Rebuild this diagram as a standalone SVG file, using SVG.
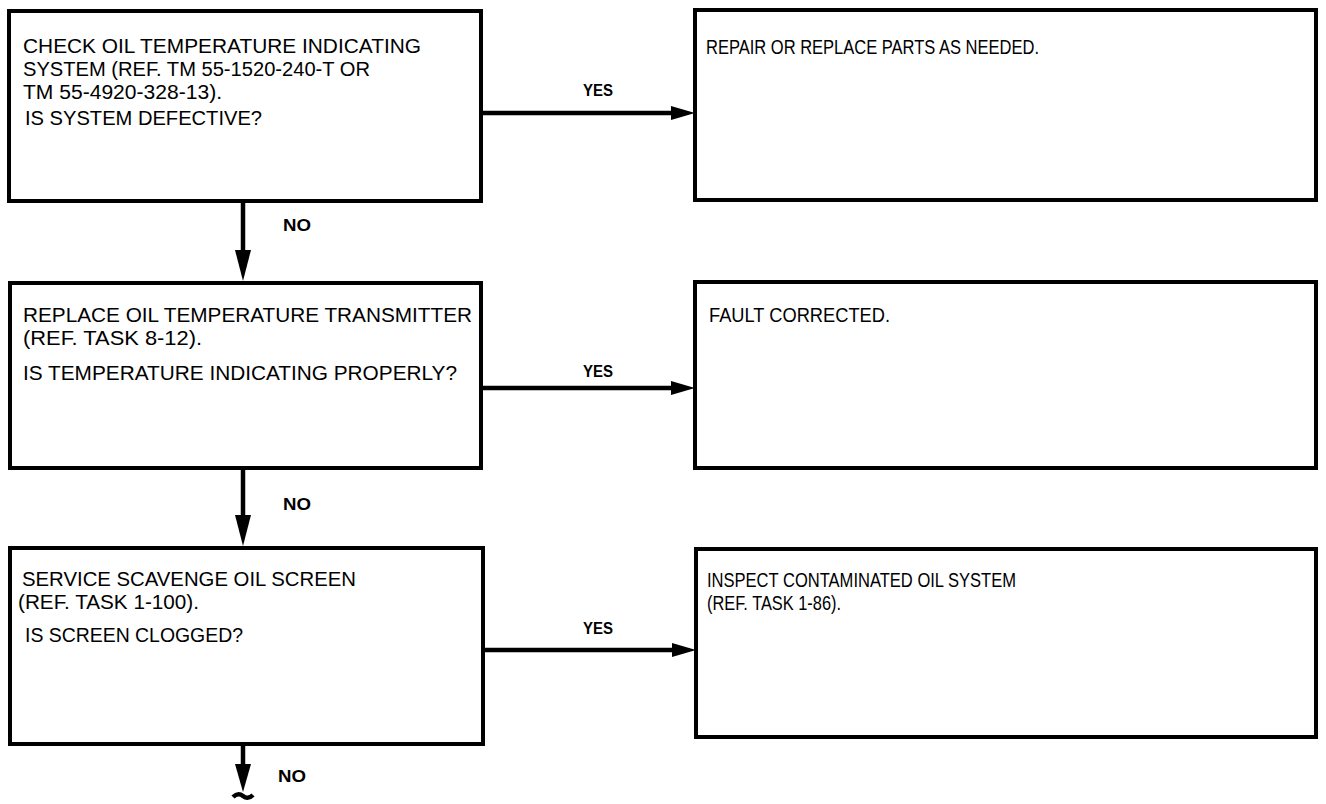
<svg xmlns="http://www.w3.org/2000/svg" width="1326" height="804" viewBox="0 0 1326 804">
<style>
.box{fill:#fff;stroke:#000;stroke-width:4}
.t{font-family:"Liberation Sans Narrow","Liberation Sans",Arial,sans-serif;font-size:20.5px;fill:#000}
.lbl{font-family:"Liberation Sans",Arial,sans-serif;font-size:17px;font-weight:bold;fill:#000}
.ln{stroke:#000;stroke-width:4.5;fill:none}
.ah{fill:#000}
</style>
<rect width="1326" height="804" fill="#fff"/>
<g id="n1">
<rect class="box" x="9" y="11" width="472" height="190"/>
<text class="t" x="23" y="53" textLength="398" lengthAdjust="spacingAndGlyphs">CHECK OIL TEMPERATURE INDICATING</text>
<text class="t" x="23" y="76" textLength="347" lengthAdjust="spacingAndGlyphs">SYSTEM (REF. TM 55-1520-240-T OR</text>
<text class="t" x="23" y="99" textLength="199" lengthAdjust="spacingAndGlyphs">TM 55-4920-328-13).</text>
<text class="t" x="25" y="125" textLength="237" lengthAdjust="spacingAndGlyphs">IS SYSTEM DEFECTIVE?</text>
</g>
<g id="n2">
<rect class="box" x="695" y="10" width="621" height="190"/>
<text class="t" x="706" y="54" textLength="333" lengthAdjust="spacingAndGlyphs">REPAIR OR REPLACE PARTS AS NEEDED.</text>
</g>
<g id="n3">
<rect class="box" x="10" y="283" width="471" height="185"/>
<text class="t" x="23" y="322" textLength="449" lengthAdjust="spacingAndGlyphs">REPLACE OIL TEMPERATURE TRANSMITTER</text>
<text class="t" x="23" y="345" textLength="179" lengthAdjust="spacingAndGlyphs">(REF. TASK 8-12).</text>
<text class="t" x="23" y="380" textLength="434" lengthAdjust="spacingAndGlyphs">IS TEMPERATURE INDICATING PROPERLY?</text>
</g>
<g id="n4">
<rect class="box" x="695" y="282" width="621" height="186"/>
<text class="t" x="709" y="322" textLength="181" lengthAdjust="spacingAndGlyphs">FAULT CORRECTED.</text>
</g>
<g id="n5">
<rect class="box" x="10" y="548" width="473" height="196"/>
<text class="t" x="22" y="586" textLength="334" lengthAdjust="spacingAndGlyphs">SERVICE SCAVENGE OIL SCREEN</text>
<text class="t" x="18" y="609" textLength="181" lengthAdjust="spacingAndGlyphs">(REF. TASK 1-100).</text>
<text class="t" x="25" y="642" textLength="218" lengthAdjust="spacingAndGlyphs">IS SCREEN CLOGGED?</text>
</g>
<g id="n6">
<rect class="box" x="696" y="549" width="620" height="188"/>
<text class="t" x="707" y="587" textLength="309" lengthAdjust="spacingAndGlyphs">INSPECT CONTAMINATED OIL SYSTEM</text>
<text class="t" x="707" y="610" textLength="134" lengthAdjust="spacingAndGlyphs">(REF. TASK 1-86).</text>
</g>
<g id="connectors">
<line class="ln" x1="483" y1="113" x2="675" y2="113"/>
<polygon class="ah" points="671,106 695,113 671,120"/>
<text class="lbl" x="583" y="96" textLength="30" lengthAdjust="spacingAndGlyphs">YES</text>
<line class="ln" x1="483" y1="388" x2="675" y2="388"/>
<polygon class="ah" points="671,381 695,388 671,395"/>
<text class="lbl" x="583" y="377" textLength="30" lengthAdjust="spacingAndGlyphs">YES</text>
<line class="ln" x1="485" y1="650" x2="676" y2="650"/>
<polygon class="ah" points="672,643 696,650 672,657"/>
<text class="lbl" x="583" y="634" textLength="30" lengthAdjust="spacingAndGlyphs">YES</text>
<line class="ln" x1="243" y1="203" x2="243" y2="255"/>
<polygon class="ah" points="235,250 243,281 251,250"/>
<text class="lbl" x="283" y="231" textLength="28" lengthAdjust="spacingAndGlyphs">NO</text>
<line class="ln" x1="243" y1="470" x2="243" y2="520"/>
<polygon class="ah" points="235,515 243,546 251,515"/>
<text class="lbl" x="283" y="510" textLength="28" lengthAdjust="spacingAndGlyphs">NO</text>
<line class="ln" x1="243" y1="746" x2="243" y2="768"/>
<polygon class="ah" points="235,764 243,792 251,764"/>
<path class="ln" stroke-width="3" d="M233,797 Q238,792 243,796 T253,795"/>
<text class="lbl" x="278" y="782" textLength="28" lengthAdjust="spacingAndGlyphs">NO</text>
</g>
</svg>
